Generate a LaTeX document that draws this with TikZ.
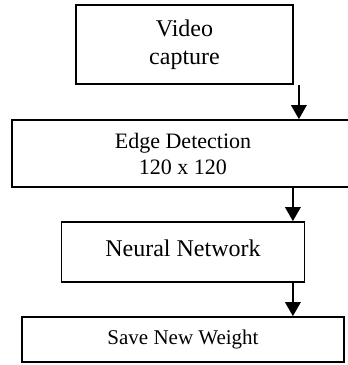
\documentclass[tikz,border=0pt]{standalone}
\usepackage{fontspec}
\setmainfont{Liberation Serif}
\usepackage{tikz}
\usetikzlibrary{arrows.meta, positioning}

\begin{document}
\begin{tikzpicture}[
    block/.style={
        rectangle,
        draw,
        line width=0.9pt,
        inner sep=2pt,
        align=center,
        font=\fontsize{12}{13.8}\selectfont
    },
    arrow/.style={-{Triangle[width=7.8pt, length=7pt]}, line width=0.75pt}
]

% frame of the picture
\path[use as bounding box, clip] (0,0) rectangle (174pt,-182.5pt);

% Main vertical pipeline
\node (capture) [block, minimum width=108.5pt, minimum height=39.5pt]
    at (92.25pt,-22.25pt) {Video\\capture};

\node (edge) [block, below=17.1pt of capture, xshift=-0.75pt,
    minimum width=171pt, minimum height=33.5pt,
    font=\fontsize{11}{13}\selectfont]
    {Edge Detection\\120 x 120};

\node (network) [block, below=16.6pt of edge,
    minimum width=121.5pt, minimum height=30pt, text depth=4pt]
    {Neural Network};

\node (weight) [block, below=16.6pt of network,
    minimum width=161pt, minimum height=22.5pt,
    font=\fontsize{10.5}{12}\selectfont]
    {Save New Weight};

% Arrow positions
\coordinate (a1) at ([xshift=2.5pt]capture.south east);
\coordinate (a2) at ([xshift=-6.25pt]network.north east);

% Main arrows
\draw[arrow] (a1) -- (a1 |- edge.north);
\draw[arrow] (a2 |- edge.south) -- (a2);
\draw[arrow] (a2 |- network.south) -- (a2 |- weight.north);

\end{tikzpicture}
\end{document}
